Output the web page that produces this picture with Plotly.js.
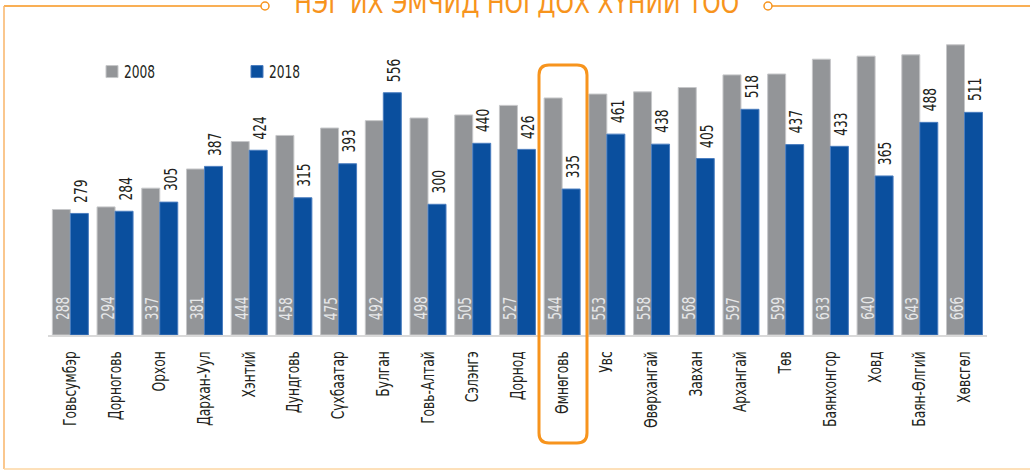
<!DOCTYPE html>
<html>
<head>
<meta charset="utf-8">
<script src="https://cdn.plot.ly/plotly-3.0.1.min.js"></script>
<style>html,body{margin:0;padding:0;background:#fff;}#chart{width:1030px;height:471px;}</style>
</head>
<body>
<div id="chart"></div>
<script>
const aimags = ["Говьсумбэр","Дорноговь","Орхон","Дархан-Уул","Хэнтий","Дундговь","Сүхбаатар","Булган","Говь-Алтай","Сэлэнгэ","Дорнод","Өмнөговь","Увс","Өвөрхангай","Завхан","Архангай","Төв","Баянхонгор","Ховд","Баян-Өлгий","Хөвсгөл"];
const values2008 = [288,294,337,381,444,458,475,492,498,505,527,544,553,558,568,597,599,633,640,643,666];
const values2018 = [279,284,305,387,424,315,393,556,300,440,426,335,461,438,405,518,437,433,365,488,511];
const seriesNames = ["2008","2018"];
const titleText = "НЭГ ИХ ЭМЧИД НОГДОХ ХҮНИЙ ТОО";
const highlighted = "Өмнөговь";

const FONT = "'DejaVu Sans Condensed','Liberation Sans Narrow',sans-serif";
const W = 1030, H = 471;
const M = {l:48, r:43, t:30, b:136};
const pw = W - M.l - M.r, ph = H - M.t - M.b;
const px = x => (x - M.l) / pw;
const py = y => (H - M.b - y) / ph;
const ORANGE = "#f7941d";

const traces = [
  {type:"bar", name:seriesNames[0], x:aimags, y:values2008,
   marker:{color:"#939598", line:{color:"#c6c7c9", width:1}}, hoverinfo:"x+y"},
  {type:"bar", name:seriesNames[1], x:aimags, y:values2018,
   marker:{color:"#0a4f9e", line:{color:"#4a7dbf", width:1}}, hoverinfo:"x+y"}
];

const annotations = [];
aimags.forEach((c, i) => {
  annotations.push({x:c, y:0, xref:"x", yref:"y", text:String(values2008[i]), showarrow:false,
    textangle:-90, xshift:-8, yshift:10, yanchor:"bottom", xanchor:"center",
    font:{family:FONT, size:17, color:"#e6e7e8", weight:300}});
  annotations.push({x:c, y:values2018[i], xref:"x", yref:"y", text:String(values2018[i]), showarrow:false,
    textangle:-90, xshift:10.5, yshift:6, yanchor:"bottom", xanchor:"center",
    font:{family:FONT, size:17, color:"#231f20"}});
});
annotations.push({xref:"paper", yref:"paper", x:px(516), y:py(22), xanchor:"center", yanchor:"bottom",
  text:titleText, showarrow:false, font:{family:FONT, size:29, color:ORANGE}, name:"title"});

// rounded highlight box around the highlighted category
const bx0 = 539, bx1 = 587, by0 = 65, by1 = 443, r = 10;
const P = (x, y) => px(x).toFixed(5) + "," + py(y).toFixed(5);
const boxPath = "M" + P(bx0 + r, by0) + " L" + P(bx1 - r, by0) + " Q" + P(bx1, by0) + " " + P(bx1, by0 + r) +
  " L" + P(bx1, by1 - r) + " Q" + P(bx1, by1) + " " + P(bx1 - r, by1) +
  " L" + P(bx0 + r, by1) + " Q" + P(bx0, by1) + " " + P(bx0, by1 - r) +
  " L" + P(bx0, by0 + r) + " Q" + P(bx0, by0) + " " + P(bx0 + r, by0) + " Z";

const shapes = [
  {type:"path", xref:"paper", yref:"paper", path:boxPath, line:{color:ORANGE, width:3}},
  {type:"line", xref:"paper", yref:"paper", x0:px(4), x1:px(261), y0:py(6), y1:py(6), line:{color:ORANGE, width:1.5}},
  {type:"line", xref:"paper", yref:"paper", x0:px(772), x1:px(1030), y0:py(6), y1:py(6), line:{color:ORANGE, width:1.5}},
  {type:"line", xref:"paper", yref:"paper", x0:px(4), x1:px(4), y0:py(6), y1:py(469), line:{color:"#f8b468", width:1.5}},
  {type:"line", xref:"paper", yref:"paper", x0:px(4), x1:px(1030), y0:py(469), y1:py(469), line:{color:"#fcd6a2", width:1.5}},
  {type:"circle", xref:"paper", yref:"paper", x0:px(261), x1:px(269), y0:py(2), y1:py(10), line:{color:ORANGE, width:1.5}, fillcolor:"#fff"},
  {type:"circle", xref:"paper", yref:"paper", x0:px(764), x1:px(772), y0:py(2), y1:py(10), line:{color:ORANGE, width:1.5}, fillcolor:"#fff"}
];

const layout = {
  width:W, height:H, margin:M, paper_bgcolor:"#fff", plot_bgcolor:"#fff",
  barmode:"group", bargap:0.195, bargroupgap:0,
  font:{family:FONT, size:17, color:"#231f20"},
  showlegend:true,
  legend:{orientation:"h", x:px(92), y:py(72), xanchor:"left", yanchor:"middle",
    font:{family:FONT, size:17, color:"#231f20"}, entrywidth:100, entrywidthmode:"pixels",
    bgcolor:"rgba(0,0,0,0)"},
  xaxis:{type:"category", tickangle:-90, showgrid:false, showline:true, linecolor:"#d9d9d9", linewidth:1.5,
    ticks:"", tickfont:{family:FONT, size:17, color:"#231f20"}, ticklabelstandoff:8, fixedrange:true},
  yaxis:{range:[0,700], visible:false, showgrid:false, zeroline:false, fixedrange:true},
  annotations:annotations, shapes:shapes
};

// narrow the (condensed) lettering to match the reference's very narrow typeface
function narrow(gd) {
  gd.querySelectorAll("svg text").forEach(t => {
    const s = t.textContent;
    if (!s) return;
    const len = t.getComputedTextLength();
    if (!len) return;
    const target = (s === titleText) ? 445 : len * 0.8;
    t.setAttribute("textLength", target.toFixed(2));
    t.setAttribute("lengthAdjust", "spacingAndGlyphs");
  });
  gd.querySelectorAll(".legend .legendtext").forEach(t => {
    const x = parseFloat(t.getAttribute("x")) || 0;
    t.setAttribute("x", x - 8);
  });
}

Plotly.newPlot("chart", traces, layout, {displayModeBar:false, staticPlot:true}).then(narrow);
</script>
</body>
</html>
